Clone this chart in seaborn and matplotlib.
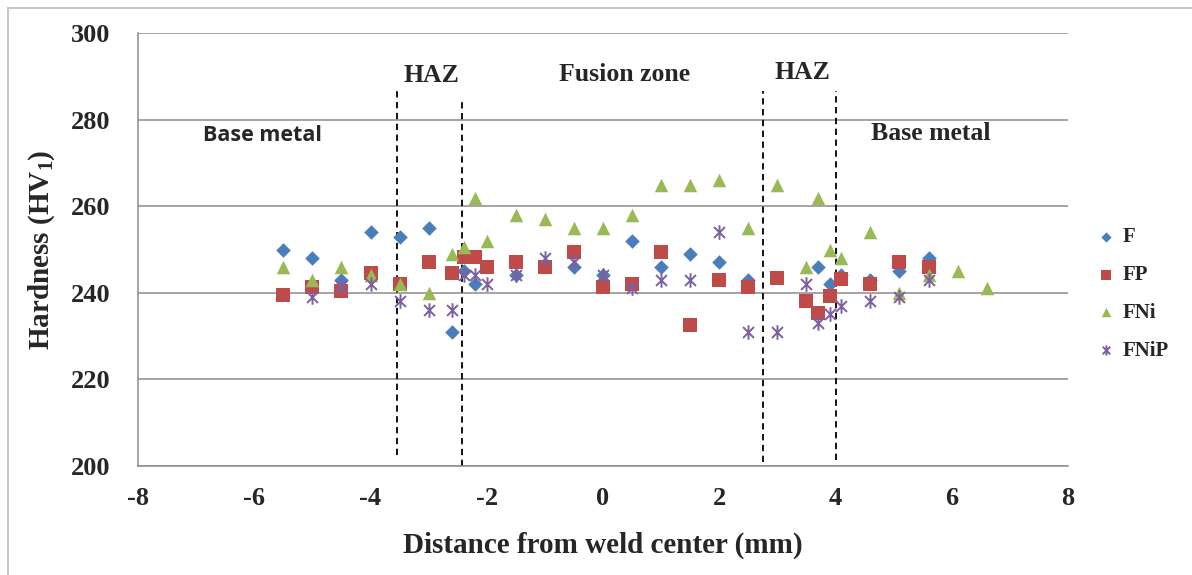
import matplotlib
matplotlib.use("Agg")
import matplotlib.pyplot as plt
from matplotlib.patches import Rectangle
from matplotlib.path import Path
import seaborn as sns
import pandas as pd

# ---- data ----
x_F = [-5.5, -5.0, -4.5, -4.0, -3.5, -3.0, -2.6, -2.4, -2.2, -1.5, -0.5, 0.0, 0.5, 1.0, 1.5, 2.0, 2.5, 3.7, 3.9, 4.1, 4.6, 5.1, 5.6]
y_F = [250, 248, 243, 254, 253, 255, 231, 245, 242, 244, 246, 244, 252, 246, 249, 247, 243, 246, 242, 244, 243, 245, 248]

x_FP = [-5.5, -5.0, -4.5, -4.0, -3.5, -3.0, -2.6, -2.4, -2.2, -2.0, -1.5, -1.0, -0.5, 0.0, 0.5, 1.0, 1.5, 2.0, 2.5, 3.0, 3.5, 3.7, 3.9, 4.1, 4.6, 5.1, 5.6]
y_FP = [239.5, 241.3, 240.5, 244.5, 242, 247, 244.5, 248.3, 248.3, 246, 247, 246, 249.4, 241.4, 242, 249.4, 232.5, 243, 241.4, 243.4, 238, 235.3, 239.3, 243.2, 242, 247, 246]

x_FNi = [-5.5, -5.0, -4.5, -4.0, -3.5, -3.0, -2.6, -2.4, -2.2, -2.0, -1.5, -1.0, -0.5, 0.0, 0.5, 1.0, 1.5, 2.0, 2.5, 3.0, 3.5, 3.7, 3.9, 4.1, 4.6, 5.1, 5.6, 6.1, 6.6]
y_FNi = [246, 243, 246, 244, 242, 240, 249, 250.5, 262, 252, 258, 257, 255, 255, 258, 265, 265, 266, 255, 265, 246, 262, 250, 248, 254, 240, 244, 245, 241]

x_FNiP = [-5.0, -4.5, -4.0, -3.5, -3.0, -2.6, -2.4, -2.2, -2.0, -1.5, -1.0, -0.5, 0.0, 0.5, 1.0, 1.5, 2.0, 2.5, 3.0, 3.5, 3.7, 3.9, 4.1, 4.6, 5.1, 5.6]
y_FNiP = [239, 241.5, 242, 238, 236, 236, 244, 244, 242, 244, 248, 247, 244, 241, 243, 243, 254, 231, 231, 242, 233, 235, 237, 238, 239, 243]

series_names = ["F", "FP", "FNi", "FNiP"]
zone_lines = [-3.55, -2.42, 2.76, 4.0]
zone_labels = ["Base metal", "HAZ", "Fusion zone", "HAZ", "Base metal"]
x_ticks = [-8, -6, -4, -2, 0, 2, 4, 6, 8]
y_ticks = [200, 220, 240, 260, 280, 300]

# ---- style ----
sns.set_theme(style="white")
plt.rcParams["font.family"] = ["Liberation Serif", "DejaVu Serif"]
plt.rcParams["mathtext.fontset"] = "custom"
plt.rcParams["mathtext.rm"] = "Liberation Serif:bold"
plt.rcParams["mathtext.bf"] = "Liberation Serif:bold"
plt.rcParams["mathtext.it"] = "Liberation Serif:bold"

fig = plt.figure(figsize=(11.92, 5.75), dpi=100)
ax = fig.add_axes([138 / 1192, 1 - 466 / 575, (1068 - 138) / 1192, (466 - 33) / 575])

c_F, c_FP, c_FNi, c_FNiP = "#4A7EBB", "#BE4B48", "#98B954", "#7D60A0"

star = Path([(0, -1), (0, 1), (-0.75, -0.75), (0.75, 0.75), (-0.75, 0.75), (0.75, -0.75)],
            [Path.MOVETO, Path.LINETO, Path.MOVETO, Path.LINETO, Path.MOVETO, Path.LINETO])

df_F = pd.DataFrame({"x": x_F, "y": y_F})
df_FP = pd.DataFrame({"x": x_FP, "y": y_FP})
df_FNi = pd.DataFrame({"x": x_FNi, "y": y_FNi})
df_FNiP = pd.DataFrame({"x": x_FNiP, "y": y_FNiP})

sns.scatterplot(data=df_F, x="x", y="y", ax=ax, marker="D", s=55, color=c_F, edgecolor=c_F, linewidth=0, label=series_names[0], zorder=3)
sns.scatterplot(data=df_FP, x="x", y="y", ax=ax, marker="s", s=105, color=c_FP, edgecolor=c_FP, linewidth=0, label=series_names[1], zorder=3)
sns.scatterplot(data=df_FNi, x="x", y="y", ax=ax, marker="^", s=95, color=c_FNi, edgecolor=c_FNi, linewidth=0, label=series_names[2], zorder=3)
sns.scatterplot(data=df_FNiP, x="x", y="y", ax=ax, marker=star, s=110, color=c_FNiP, edgecolor=c_FNiP, linewidth=1.4, label=series_names[3], zorder=3)

# zone boundary lines
zone_tops = [287.5, 285.0, 286.5, 286.5]
zone_bottoms = [202.5, 200.0, 201.0, 201.5]
for xv, yt, yb in zip(zone_lines, zone_tops, zone_bottoms):
    ax.plot([xv, xv], [yb, yt], color="black", linestyle=(0, (3.5, 2.5)), linewidth=1.3, zorder=2)

# zone annotations
txt_kw = dict(fontweight="bold", fontsize=18.5, ha="center", va="center")
ax.text(-5.85, 276.3, zone_labels[0], family=["Open Sans", "DejaVu Sans"], fontweight="bold", fontsize=15.5, ha="center", va="center")
ax.text(-2.95, 290.1, zone_labels[1], **txt_kw)
ax.text(0.37, 290.4, zone_labels[2], **txt_kw)
ax.text(3.43, 290.9, zone_labels[3], **txt_kw)
ax.text(5.64, 276.8, zone_labels[4], **txt_kw)

ax.set_xlim(-8, 8)
ax.set_ylim(200, 300)
ax.set_xticks(x_ticks)
ax.set_yticks(y_ticks)
ax.set_xticklabels([str(v) for v in x_ticks], fontweight="bold", fontsize=19)
ax.set_yticklabels([str(v) for v in y_ticks], fontweight="bold", fontsize=19)
ax.tick_params(axis="x", length=0, pad=15)
ax.tick_params(axis="y", length=0, pad=20)

ax.yaxis.grid(True, color="#8c8c8c", linewidth=1.1)
ax.xaxis.grid(False)
ax.set_axisbelow(True)
for side in ["top", "right"]:
    ax.spines[side].set_visible(False)
for side in ["left", "bottom"]:
    ax.spines[side].set_color("#8c8c8c")
    ax.spines[side].set_linewidth(1.1)

ax.set_xlabel("Distance from weld center (mm)", fontweight="bold", fontsize=21, labelpad=16)
ax.set_ylabel("Hardness (HV$_{1}$)", fontweight="bold", fontsize=21, labelpad=10)

leg = ax.legend(loc="center left", bbox_to_anchor=(1071 / 1192, 1 - 294 / 575), bbox_transform=fig.transFigure,
                frameon=False, prop={"weight": "bold", "size": 15, "family": "Liberation Serif"},
                handletextpad=0.0, labelspacing=0.85, markerscale=0.7, handlelength=1.6)

fig.add_artist(Rectangle((8 / 1192, -0.05), 1.1, (575 - 8) / 575 + 0.05, transform=fig.transFigure,
                         fill=False, edgecolor="#c8c8c8", linewidth=1.5))

fig.savefig("out.png", dpi=100)
